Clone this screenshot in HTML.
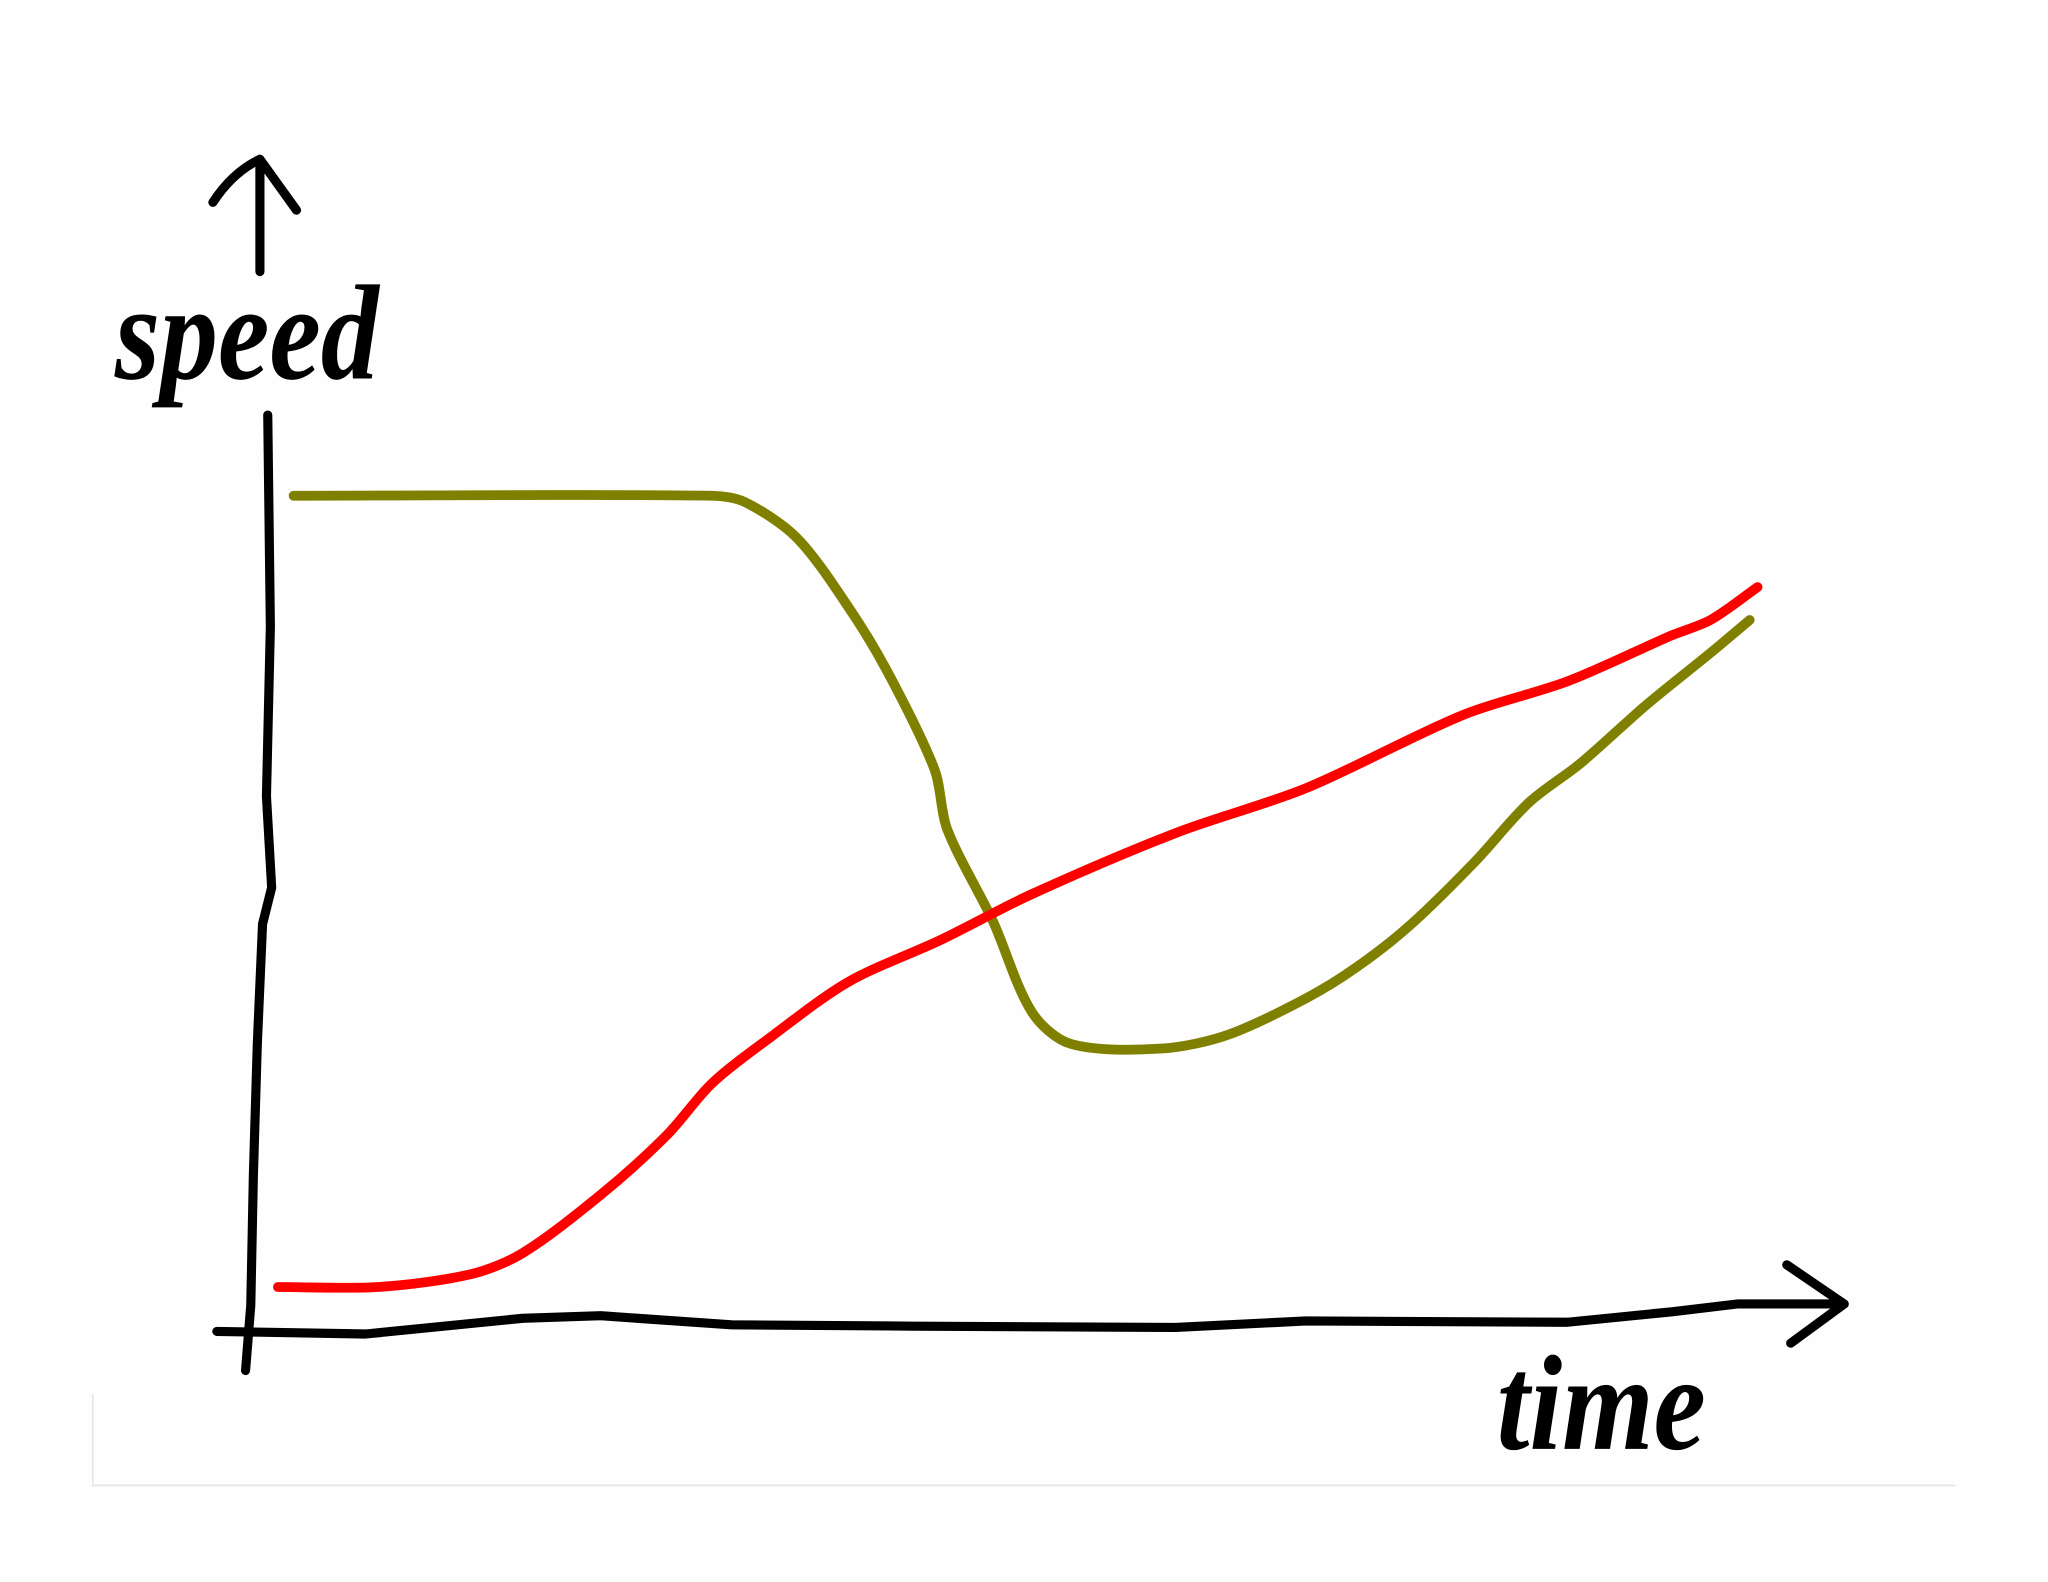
<!DOCTYPE html>
<html><head><meta charset="utf-8">
<style>
html,body{margin:0;padding:0;background:#fefefe;}
svg{display:block;}
text{font-family:"Liberation Serif",serif;font-weight:bold;font-style:italic;fill:#000;}
</style></head>
<body>
<svg id="chart" width="2048" height="1582" viewBox="0 0 1568 1212" preserveAspectRatio="none" xmlns="http://www.w3.org/2000/svg">
  <rect x="0" y="0" width="1568" height="1212" fill="#fefefe"/>
  <path d="M71 1068 L71 1138 L1497 1138" fill="none" stroke="#e4e4ea" stroke-width="1.2"/>
  <path d="M199 208 L199 122 M163 155 Q178 132 199 122 Q212 140 227 161" fill="none" stroke="#000" stroke-width="7" stroke-linecap="round" stroke-linejoin="round"/>
  <text x="88" y="290" font-size="104" textLength="202" lengthAdjust="spacingAndGlyphs">speed</text>
  <path d="M205 318 L207 480 L204 610 L208 680 L201 708 L197 800 L194 900 L192 1000 L188 1050" fill="none" stroke="#000" stroke-width="7" stroke-linecap="round" stroke-linejoin="round"/>
  <path d="M166 1020 L280 1022 L400 1010 L460 1008 L560 1015 L700 1016 L900 1017 L1000 1012 L1200 1013 L1280 1005 L1330 999 L1412 999 M1368 969 L1412 999 L1371 1029" fill="none" stroke="#000" stroke-width="7" stroke-linecap="round" stroke-linejoin="round"/>
  <text x="1146" y="1110" font-size="104" textLength="160" lengthAdjust="spacingAndGlyphs">time</text>
  <g id="series"></g>
</svg>
<script>
const redTime   = [1.9, 8.3, 14.2, 17.5, 22.5, 26.7, 29.6, 33.3, 38.3, 44.2, 50, 59.2, 67.5, 77.5, 84.2, 90.8, 93.3, 96.3];
const redSpeed  = [2, 2, 3.4, 5.7, 12.1, 18.6, 24.3, 29.3, 35.4, 40, 45, 51.7, 56.6, 64.6, 68.3, 73.3, 75, 78.6];
const oliveTime  = [2.9, 29.6, 31.7, 35, 38.3, 40.8, 43.8, 44.6, 47.5, 50, 52.5, 58.3, 62.5, 67.5, 70.8, 74.2, 78.3, 81.7, 85, 89.2, 93.3, 95.8];
const oliveSpeed = [88.6, 88.6, 87.9, 84, 76.4, 69.3, 58.6, 52.1, 42.1, 32.1, 28.6, 28.1, 29.6, 33.6, 37.1, 41.7, 48.6, 55, 59.3, 65.7, 71.4, 75];

function xScale(t){ return 190 + t * 12; }
function yScale(s){ return 1000 - s * 7; }

const g = document.getElementById('series');
function smoothPath(p){
  let d = 'M' + p[0][0].toFixed(1) + ' ' + p[0][1].toFixed(1);
  for (let i = 0; i < p.length - 1; i++){
    const p0 = p[i-1] || p[i], p1 = p[i], p2 = p[i+1], p3 = p[i+2] || p2;
    const seg = Math.hypot(p2[0]-p1[0], p2[1]-p1[1]);
    const l1 = Math.hypot(p2[0]-p0[0], p2[1]-p0[1]) || 1;
    const l2 = Math.hypot(p3[0]-p1[0], p3[1]-p1[1]) || 1;
    const k = 0.3;
    const c1x = p1[0] + (p2[0]-p0[0])/l1*seg*k, c1y = p1[1] + (p2[1]-p0[1])/l1*seg*k;
    const c2x = p2[0] - (p3[0]-p1[0])/l2*seg*k, c2y = p2[1] - (p3[1]-p1[1])/l2*seg*k;
    d += ' C' + c1x.toFixed(1)+' '+c1y.toFixed(1)+' '+c2x.toFixed(1)+' '+c2y.toFixed(1)+' '+p2[0].toFixed(1)+' '+p2[1].toFixed(1);
  }
  return d;
}
function drawLine(ts, ss, color, name){
  const pts = ts.map((t,i)=> [xScale(t), yScale(ss[i])]);
  const pl = document.createElementNS('http://www.w3.org/2000/svg','path');
  pl.setAttribute('d', smoothPath(pts));
  pl.setAttribute('fill','none');
  pl.setAttribute('stroke', color);
  pl.setAttribute('stroke-width','7.5');
  pl.setAttribute('stroke-linecap','round');
  pl.setAttribute('stroke-linejoin','round');
  
  
  g.appendChild(pl);
}
drawLine(oliveTime, oliveSpeed, '#808000', 'olive-speed-line');
drawLine(redTime, redSpeed, '#ff0000', 'red-speed-line');
</script>
</body></html>
